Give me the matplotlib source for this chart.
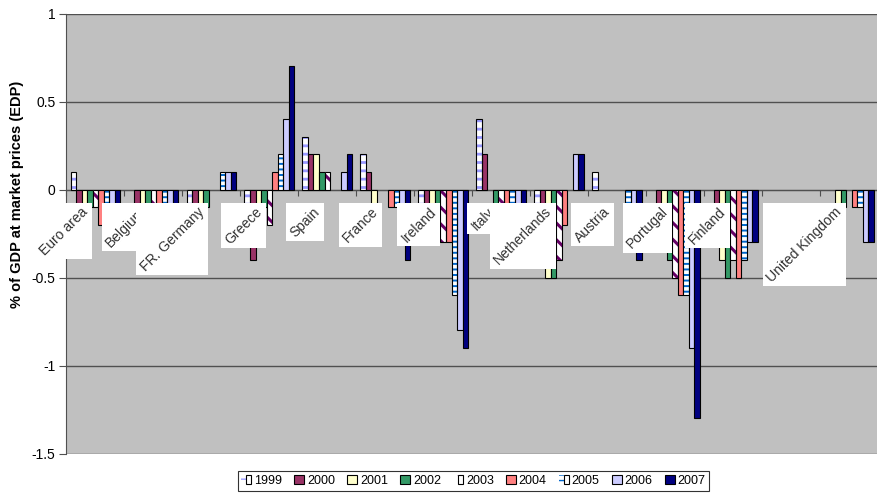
import matplotlib
matplotlib.use('Agg')
import matplotlib.pyplot as plt
from matplotlib.patches import Patch, Rectangle
from matplotlib.legend_handler import HandlerTuple
from matplotlib.transforms import IdentityTransform, offset_copy
import numpy as np

plt.rcParams['font.family'] = ['Liberation Sans', 'DejaVu Sans']

nan = np.nan

# categories (one slot between Finland and United Kingdom has no label and no data)
countries = ['Euro area', 'Belgium', 'FR. Germany', 'Greece', 'Spain', 'France',
             'Ireland', 'Italy', 'Netherlands', 'Austria', 'Portugal', 'Finland',
             '', 'United Kingdom']
years = ['1999', '2000', '2001', '2002', '2003', '2004', '2005', '2006', '2007']

# values per year, % of GDP
v1999 = [0.1, nan, -0.1, -0.1, 0.3, 0.2, -0.1, 0.4, -0.1, 0.1, nan, nan, nan, nan]
v2000 = [-0.1, -0.1, -0.1, -0.4, 0.2, 0.1, -0.1, 0.2, -0.1, nan, -0.1, -0.2, nan, nan]
v2001 = [-0.1, -0.1, -0.1, -0.1, 0.2, -0.1, -0.1, nan, -0.5, nan, -0.2, -0.4, nan, -0.1]
v2002 = [-0.1, -0.1, -0.1, -0.1, 0.1, nan, -0.1, -0.1, -0.5, nan, -0.4, -0.5, nan, -0.1]
v2003 = [-0.1, -0.1, nan, -0.2, 0.1, nan, -0.3, -0.1, -0.4, nan, -0.5, -0.4, nan, nan]
v2004 = [-0.2, -0.1, nan, 0.1, nan, -0.1, -0.3, -0.1, -0.2, nan, -0.6, -0.5, nan, -0.1]
v2005 = [-0.1, -0.1, 0.1, 0.2, nan, -0.1, -0.6, -0.1, nan, -0.1, -0.6, -0.4, nan, -0.1]
v2006 = [-0.1, -0.1, 0.1, 0.4, 0.1, -0.1, -0.8, -0.1, 0.2, -0.1, -0.9, -0.3, nan, -0.3]
v2007 = [-0.1, -0.1, 0.1, 0.7, 0.2, -0.4, -0.9, -0.1, 0.2, -0.4, -1.3, -0.3, nan, -0.3]
series = [v1999, v2000, v2001, v2002, v2003, v2004, v2005, v2006, v2007]

# Excel-like fills: (face colour, hatch, hatch colour)
styles = [
    ('white', '--', '#9999FF'),
    ('#993366', None, None),
    ('#FFFFCC', None, None),
    ('#339966', None, None),
    ('white', '\\\\', '#660066'),
    ('#FF8080', None, None),
    ('white', '---', '#0066CC'),
    ('#CCCCFF', None, None),
    ('#000080', None, None),
]
hatch_lw = {'--': 2.0, '\\\\': 2.2, '---': 1.4}

fig = plt.figure(figsize=(8.78, 4.98), dpi=100)
ax = fig.add_axes([66.43 / 878, 44.3 / 498, 1 - 66.43 / 878, 440 / 498])
ax.set_facecolor('#C0C0C0')

idx = np.arange(len(countries))
bw = 1 / 10.5
handles = []
for i, (vals, (face, hatch, hcol)) in enumerate(zip(series, styles)):
    x = idx + (i - 4) * bw
    if hatch:
        with plt.rc_context({'hatch.linewidth': hatch_lw[hatch]}):
            ax.bar(x, vals, bw, color=face, edgecolor=hcol, hatch=hatch,
                   linewidth=0, zorder=3)
            h1 = Patch(facecolor=face, edgecolor=hcol, hatch=hatch, linewidth=0)
        ax.bar(x, vals, bw, fill=False, edgecolor='black', linewidth=0.8, zorder=3.1)
        h2 = Patch(facecolor='none', edgecolor='black', linewidth=0.8)
        handles.append((h1, h2))
    else:
        ax.bar(x, vals, bw, color=face, edgecolor='black', linewidth=0.8, zorder=3)
        handles.append(Patch(facecolor=face, edgecolor='black', linewidth=0.8))

ax.set_xlim(-0.5, -0.5 + (878 - 66.43) / 58.87)
ax.set_ylim(-1.5, 1)
ax.set_yticks([-1.5, -1, -0.5, 0, 0.5, 1])
ax.set_yticklabels(['-1.5', '-1', '-0.5', '0', '0.5', '1'], fontsize=10)
ax.yaxis.grid(True, color='#505050', linewidth=1)
ax.set_axisbelow(True)

ax.spines['top'].set_visible(False)
ax.spines['right'].set_visible(False)
ax.spines['bottom'].set_position(('data', 0))
ax.spines['bottom'].set_color('#505050')
ax.spines['left'].set_color('#505050')
ax.set_xticks(np.arange(-0.5, len(countries), 1))
ax.tick_params(axis='x', direction='out', length=4, color='#505050', labelbottom=False)
ax.tick_params(axis='y', direction='out', length=5, color='#505050', pad=3)

ax.set_ylabel('% of GDP at market prices (EDP)', fontsize=10.5, fontweight='bold')
ax.yaxis.set_label_coords(-0.052, 0.59)

# rotated category labels on white boxes
lab_tr = offset_copy(ax.transData, fig=fig, x=-3.3, y=-10.7, units='points')
texts = []
for i, name in enumerate(countries):
    if not name:
        continue
    t = ax.text(i, 0, name, transform=lab_tr, ha='right', va='top',
                rotation=45, fontsize=10, color='#333333',
                clip_on=False, zorder=10 + 2 * i + 1)
    texts.append((i, t))

fig.canvas.draw()
renderer = fig.canvas.get_renderer()
pad = 1.3
for i, t in texts:
    bb = t.get_window_extent(renderer)
    r = Rectangle((bb.x0 - pad, bb.y0 - pad), bb.width + 2 * pad, bb.height + 2 * pad,
                  transform=IdentityTransform(), facecolor='white', edgecolor='none',
                  clip_on=False, zorder=10 + 2 * i)
    ax.add_artist(r)

leg = fig.legend(handles, years, loc='center', bbox_to_anchor=(473.5 / 878, 17 / 498),
                 ncol=9, fontsize=9, frameon=True, fancybox=False, edgecolor='black',
                 handlelength=0.75, handleheight=0.75, handletextpad=0.25,
                 columnspacing=1.0, borderpad=0.3,
                 handler_map={tuple: HandlerTuple(ndivide=None, pad=0)})
leg.get_frame().set_linewidth(0.8)

fig.savefig('out.png', dpi=100)
